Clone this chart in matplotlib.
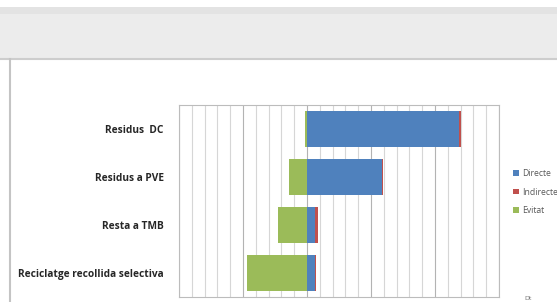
import matplotlib.pyplot as plt
from matplotlib.patches import Rectangle
from matplotlib.lines import Line2D
from matplotlib.ticker import MultipleLocator

categories = ['Residus  DC', 'Residus a PVE', 'Resta a TMB', 'Reciclatge recollida selectiva']
directe = [238, 117, 13, 13]
indirecte = [2, 2, 4, 1]
evitat = [-3, -28, -45, -94]

c_dir = '#4f81bd'
c_ind = '#c0504d'
c_evi = '#9bbb59'

W, H = 557, 302
fig = plt.figure(figsize=(W / 100, H / 100), dpi=100)
fig.patch.set_facecolor('white')

# window chrome: grey band on top and frame lines
fig.patches.append(Rectangle((0, 1 - 58 / H), 1, 51 / H, transform=fig.transFigure,
                             facecolor='#ececec', edgecolor='none', zorder=0))
fig.patches.append(Rectangle((0, 1 - 14 / H), 1, 7 / H, transform=fig.transFigure,
                             facecolor='#e3e3e3', edgecolor='none', zorder=0))
fig.lines.append(Line2D([0, 1], [1 - 59 / H, 1 - 59 / H], transform=fig.transFigure,
                        color='#cdcdcd', lw=1.5))
fig.lines.append(Line2D([9.5 / W, 9.5 / W], [0, 1 - 59 / H], transform=fig.transFigure,
                        color='#c4c4c4', lw=1.5))

ax = fig.add_axes([179 / W, 5 / H, 320 / W, 192 / H])
y = list(range(len(categories)))
h = 0.76
ax.barh(y, directe, height=h, color=c_dir, zorder=3, label='Directe')
ax.barh(y, indirecte, left=directe, height=h, color=c_ind, zorder=3, label='Indirecte')
ax.barh(y, evitat, height=h, color=c_evi, zorder=3, label='Evitat')

ax.set_xlim(-200, 300)
ax.set_ylim(3.5, -0.5)
ax.xaxis.set_major_locator(MultipleLocator(100))
ax.xaxis.set_minor_locator(MultipleLocator(20))
ax.grid(axis='x', which='minor', color='#d6d6d6', lw=0.8, zorder=0)
ax.grid(axis='x', which='major', color='#b3b3b3', lw=0.8, zorder=0)
ax.set_xticklabels([])
ax.tick_params(axis='x', which='both', length=0)
ax.set_yticks(y)
ax.set_yticklabels(categories, fontsize=7.3, fontweight='bold', family='Open Sans', color='#262626')
ax.tick_params(axis='y', length=0, pad=11)
for s in ax.spines.values():
    s.set_color('#bcbcbc')
    s.set_linewidth(0.8)

ax.legend(loc='center left', bbox_to_anchor=(510 / W, 1 - 192 / H), bbox_transform=fig.transFigure,
          frameon=False, handlelength=0.65, handleheight=0.65, handletextpad=0.4,
          labelspacing=1.1, borderaxespad=0, prop={'family': 'Open Sans', 'size': 6.2})
for t in ax.get_legend().get_texts():
    t.set_color('#595959')

fig.text(524 / W, 1 - 298 / H, 'Dt', fontsize=4.5, color='#777777', va='center')

fig.savefig('out.png', dpi=100)
